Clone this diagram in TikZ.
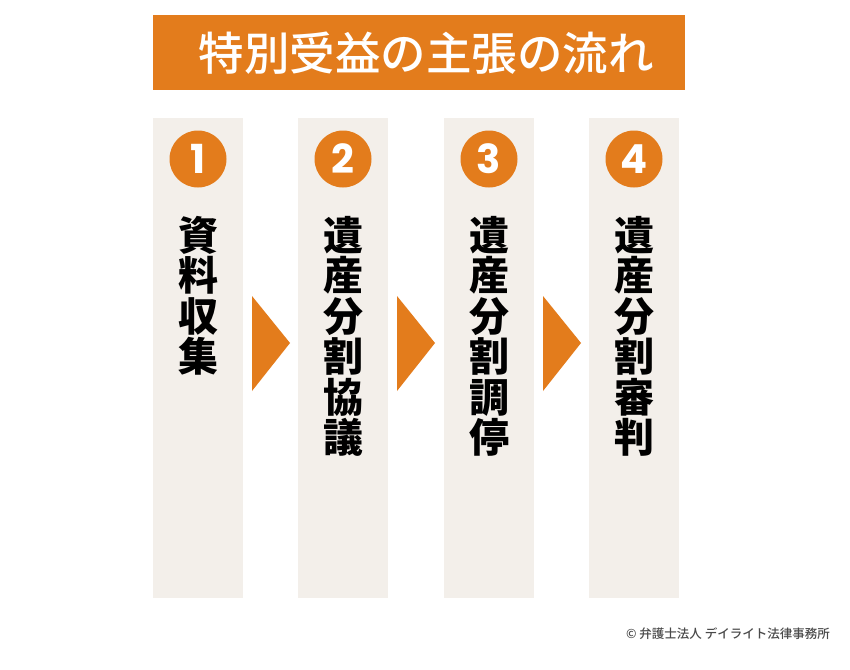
\documentclass[tikz,border=0pt]{standalone}
\usepackage{fontspec}
\newfontfamily\cjk{Noto Sans CJK JP}
\newfontfamily\cjkm{Noto Sans CJK JP Medium}
\newfontfamily\numfont{Poppins}
\definecolor{orng}{HTML}{E37C1C}
\definecolor{beige}{HTML}{F3EFEA}
\definecolor{copy}{HTML}{4A4A4A}
\tikzset{
  col/.style={fill=beige, draw=none},
  num/.style={circle, fill=orng, minimum size=57pt, inner sep=0pt, text=white, font=\numfont\fontseries{sb}\selectfont\fontsize{40}{40}\selectfont},
  vtext/.style={anchor=north, align=center, inner sep=0pt, font=\cjk\bfseries\fontsize{40}{40.5}\selectfont},
  arr/.style={fill=orng, draw=none},
}
\begin{document}
\begin{tikzpicture}[x=1pt,y=-1pt]
\useasboundingbox (0,0) rectangle (850,669);
\fill[white] (0,0) rectangle (850,669);
% title
\node[fill=orng, minimum width=532pt, minimum height=75pt, inner sep=0pt, anchor=north west] (title) at (153,15) {};
\node[text=white, font=\cjkm\fontsize{45.5}{45.5}\selectfont, anchor=center] (ttext) at (426,53) {特別受益の主張の流れ};
% columns
\foreach \i/\x in {1/153,2/298,3/444,4/589}{
  \fill[col] (\x,118) rectangle ++(90,480);
  \node[num] (n\i) at (\x+45,159) {\i};
}
\node[vtext] (t1) at (198,216) {資\\料\\収\\集};
\node[vtext] (t2) at (343,216) {遺\\産\\分\\割\\協\\議};
\node[vtext] (t3) at (489,216) {遺\\産\\分\\割\\調\\停};
\node[vtext] (t4) at (634,216) {遺\\産\\分\\割\\審\\判};
% arrows
\foreach \x in {252,397,543}{
  \fill[arr] (\x,296) -- (\x+38,343) -- (\x,391) -- cycle;
}
% copyright
\node[anchor=east, text=copy, font=\cjkm\fontsize{12.5}{12.5}\selectfont, inner sep=0pt] (cr) at (830,634) {© 弁護士法人 デイライト法律事務所};
\end{tikzpicture}
\end{document}
